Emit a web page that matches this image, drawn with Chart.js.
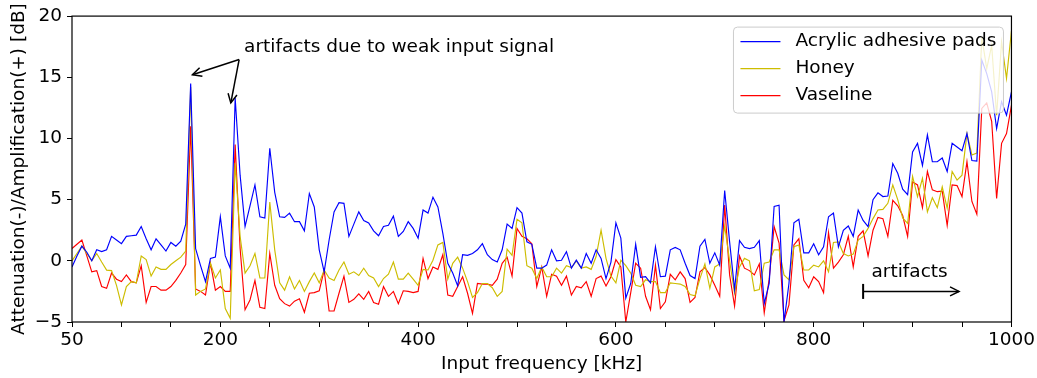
<!DOCTYPE html>
<html><head><meta charset="utf-8">
<script src="https://cdn.jsdelivr.net/npm/chart.js@4.4.1/dist/chart.umd.min.js"></script>
<style>html,body{margin:0;padding:0;background:#fff;}canvas{display:block;}</style>
</head><body>
<canvas id="c" width="1037" height="378"></canvas>
<script>
// Input frequency [kHz]
const frequencies = [
  50,55,60,65,70,75,80,85,90,95,
  100,105,110,115,120,125,130,135,140,145,
  150,155,160,165,170,175,180,185,190,195,
  200,205,210,215,220,225,230,235,240,245,
  250,255,260,265,270,275,280,285,290,295,
  300,305,310,315,320,325,330,335,340,345,
  350,355,360,365,370,375,380,385,390,395,
  400,405,410,415,420,425,430,435,440,445,
  450,455,460,465,470,475,480,485,490,495,
  500,505,510,515,520,525,530,535,540,545,
  550,555,560,565,570,575,580,585,590,595,
  600,605,610,615,620,625,630,635,640,645,
  650,655,660,665,670,675,680,685,690,695,
  700,705,710,715,720,725,730,735,740,745,
  750,755,760,765,770,775,780,785,790,795,
  800,805,810,815,820,825,830,835,840,845,
  850,855,860,865,870,875,880,885,890,895,
  900,905,910,915,920,925,930,935,940,945,
  950,955,960,965,970,975,980,985,990,995,
  1000
];
// Attenuation(-)/Amplification(+) [dB]
const acrylicPads = [
  -0.5,0.4,1.2,0.7,0.0,0.9,0.75,0.9,2.0,1.7,
  1.4,2.0,2.05,2.1,2.8,1.8,0.9,1.8,1.3,0.8,
  1.5,1.2,1.6,3.0,14.5,1.0,-0.4,-1.7,0.2,0.3,
  3.6,0.4,-0.6,13.3,7.0,2.8,4.5,6.2,3.6,3.5,
  9.2,5.6,3.6,3.55,3.9,3.2,3.2,2.45,5.5,4.4,
  0.9,-0.9,1.7,4.0,4.75,4.7,2.0,3.0,4.0,3.3,
  3.1,2.45,2.05,2.8,2.9,3.65,2.0,2.4,3.2,2.65,
  1.85,4.15,3.9,5.2,4.4,2.25,-0.2,-1.0,-2.05,0.5,
  0.45,0.6,0.9,1.4,0.5,0.1,-0.1,0.9,3.0,2.65,
  4.35,3.9,1.55,1.35,-0.6,-0.6,-0.35,0.9,0.0,0.05,
  0.75,-0.6,0.05,-0.6,0.6,-0.2,0.9,0.2,-1.45,-0.1,
  3.1,1.85,-3.05,-1.85,1.35,-1.35,-1.3,-1.8,1.15,-1.3,
  -1.25,0.9,1.1,0.9,-0.2,-1.2,-1.45,1.2,1.75,-0.2,
  0.65,-0.35,5.75,1.55,-2.35,1.65,1.1,1.0,1.1,1.65,
  -3.5,-1.85,4.45,4.55,-5.0,-1.85,3.1,3.4,0.65,0.65,
  1.4,0.5,1.15,3.6,3.9,1.15,2.5,2.85,2.0,4.15,
  3.3,2.8,5.0,5.55,5.25,5.3,7.95,7.15,5.85,5.4,
  8.9,9.6,7.8,10.3,8.1,8.1,8.4,7.3,9.6,9.3,
  9.0,10.4,8.2,8.15,16.4,15.3,13.8,10.8,13.0,11.9,
  13.8
];
const honey = [
  0.0,0.6,1.2,0.6,0.0,0.6,-0.1,-0.76,-0.8,-2.0,
  -3.6,-2.1,-1.7,-1.8,0.4,0.1,-1.25,-0.5,-0.7,-0.7,
  -0.3,0.0,0.3,0.8,14.2,-2.8,-2.5,-2.3,-0.2,-1.4,
  -0.75,-3.9,-4.7,8.0,2.0,-1.0,-0.4,0.6,-1.4,-1.4,
  4.8,0.9,-1.8,-2.4,-1.3,-2.3,-1.6,-2.5,-1.7,-1.0,
  -1.8,-0.75,-1.4,-1.6,-0.75,-0.1,-1.1,-0.9,-1.2,-0.6,
  -1.2,-1.4,-2.1,-1.45,-1.1,-0.1,-1.5,-1.5,-1.0,-1.5,
  -2.0,-0.7,-0.75,0.05,1.3,1.5,-1.5,-0.2,0.3,-0.6,
  -1.7,-3.0,-2.6,-1.85,-1.85,-2.2,-2.9,-2.5,0.95,0.45,
  3.4,3.1,-0.4,-0.6,-1.45,-0.5,-1.3,-1.3,-0.6,-1.0,
  -0.4,-0.55,0.0,-0.6,-0.5,-0.7,0.35,2.5,0.2,-1.25,
  -1.8,0.05,-0.4,-1.0,-2.0,-2.1,-1.55,-1.7,-1.7,-2.6,
  -2.6,-1.8,-1.85,-1.9,-2.1,-2.75,-2.85,-1.45,-0.25,-2.25,
  -0.5,-0.25,2.85,0.0,-2.65,-0.5,0.2,0.0,-2.45,-2.35,
  -0.2,-0.1,0.9,0.9,-1.15,-1.55,1.15,1.3,-0.75,-0.75,
  -0.35,-0.5,0.0,-0.9,1.5,1.55,0.6,0.4,0.55,1.7,
  2.0,2.65,3.45,4.15,4.2,4.7,6.2,5.0,3.5,3.05,
  6.9,5.25,6.75,4.0,5.15,4.35,6.05,4.3,7.3,6.6,
  7.0,10.4,8.65,8.8,18.3,15.7,17.6,11.9,17.9,14.9,
  18.8
];
const vaseline = [
  1.0,1.35,1.7,0.4,-0.9,-0.8,-2.1,-2.25,-1.0,-1.5,
  -1.7,-1.15,-1.7,-1.8,-0.4,-3.4,-2.1,-2.1,-2.4,-2.4,
  -2.1,-1.6,-1.0,-0.3,11.0,-2.3,-2.5,-2.8,-0.2,-2.4,
  -2.1,-2.5,-2.5,9.5,1.0,-4.0,-3.2,-1.6,-3.8,-3.9,
  0.6,-2.0,-3.1,-3.5,-3.7,-3.3,-3.1,-4.2,-2.65,-2.6,
  -2.45,-0.75,-4.1,-4.1,-2.65,-1.25,-3.4,-3.15,-2.7,-3.15,
  -2.5,-3.4,-3.55,-2.1,-2.9,-2.5,-3.5,-2.45,-2.5,-2.6,
  -2.5,0.2,-1.45,-0.5,-0.7,0.5,-2.8,-2.9,-2.1,-1.3,
  -2.65,-4.3,-1.85,-1.9,-1.9,-2.0,-1.5,-0.2,0.3,-1.25,
  2.65,2.0,1.8,1.4,-2.1,-0.5,-2.9,-1.1,-1.25,-2.0,
  -1.25,-2.8,-2.1,-2.2,-1.7,-2.9,-1.45,-1.25,-2.05,-1.3,
  0.1,-0.5,-5.0,-2.6,-0.2,-0.6,-2.9,-4.0,-0.35,-3.9,
  -3.35,-1.1,-1.55,-0.9,-1.45,-3.4,-3.0,-0.9,-0.55,-1.15,
  -2.0,-2.9,4.55,-1.15,-3.7,0.4,-0.6,-0.8,-1.15,-0.25,
  -4.25,-1.5,2.8,1.45,-4.9,-3.6,1.3,1.8,-1.6,-2.2,
  -1.3,-1.7,-2.6,2.3,-0.6,-0.1,0.5,2.0,-0.5,2.0,
  2.45,0.4,2.5,3.55,3.45,2.0,4.95,4.5,3.7,2.0,
  6.45,6.2,4.35,7.3,5.8,5.65,5.7,2.9,6.2,6.15,
  5.25,8.1,4.85,3.8,12.45,12.9,11.4,5.1,9.6,10.4,
  12.7
];
const seriesLabels = ['Acrylic adhesive pads', 'Honey', 'Vaseline'];
const xTickLabels = [50, 200, 400, 600, 800, 1000];
const yTickLabels = [-5, 0, 5, 10, 15, 20];

const FONT = "'DejaVu Sans', 'Liberation Sans', sans-serif";
const FS = 18.5;
const COLORS = ['#0000ff', '#cdbd00', '#ff0000'];

const toPts = arr => frequencies.map((f, i) => ({x: f, y: arr[i]}));

function arrowHead(ctx, x1, y1, x2, y2, len, half) {
  const a = Math.atan2(y2 - y1, x2 - x1);
  const bx = x2 - len * Math.cos(a), by = y2 - len * Math.sin(a);
  const nx = -Math.sin(a), ny = Math.cos(a);
  ctx.beginPath();
  ctx.moveTo(bx + nx * half, by + ny * half);
  ctx.lineTo(x2, y2);
  ctx.lineTo(bx - nx * half, by - ny * half);
  ctx.stroke();
}

const overlay = {
  id: 'overlay',
  afterDatasetsDraw(chart) {
    const {ctx, chartArea: a, scales: {x, y}} = chart;
    ctx.save();
    // frame (all four spines)
    ctx.strokeStyle = '#000';
    ctx.lineWidth = 1.2;
    ctx.strokeRect(a.left, a.top, a.right - a.left, a.bottom - a.top);

    // annotation: artifacts due to weak input signal
    ctx.fillStyle = '#000';
    ctx.font = FS + 'px ' + FONT;
    ctx.textBaseline = 'middle';
    ctx.textAlign = 'left';
    ctx.fillText('artifacts due to weak input signal', x.getPixelForValue(224), y.getPixelForValue(17.5));
    ctx.lineWidth = 1.5;
    const tx = x.getPixelForValue(219), ty = y.getPixelForValue(16.45);
    const heads = [[171.8, 15.2], [210.6, 12.9]];
    heads.forEach(([hf, hv]) => {
      const hx = x.getPixelForValue(hf), hy = y.getPixelForValue(hv);
      ctx.beginPath(); ctx.moveTo(tx, ty); ctx.lineTo(hx, hy); ctx.stroke();
      arrowHead(ctx, tx, ty, hx, hy, 9, 4.5);
    });

    // annotation: |-> artifacts
    ctx.textAlign = 'center';
    ctx.fillText('artifacts', x.getPixelForValue(897), y.getPixelForValue(-0.9));
    const ax1 = x.getPixelForValue(850), ax2 = x.getPixelForValue(947), ay = y.getPixelForValue(-2.5);
    ctx.beginPath(); ctx.moveTo(ax1, ay); ctx.lineTo(ax2, ay); ctx.stroke();
    ctx.lineWidth = 2;
    ctx.beginPath(); ctx.moveTo(ax1, ay - 7.5); ctx.lineTo(ax1, ay + 7.5); ctx.stroke();
    ctx.lineWidth = 1.5;
    arrowHead(ctx, ax1, ay, ax2, ay, 9, 4.5);

    // legend
    const lw = 270, lh = 86;
    const lx = a.right - 8 - lw, ly = a.top + 11;
    ctx.beginPath();
    ctx.roundRect(lx, ly, lw, lh, 4);
    ctx.fillStyle = 'rgba(255,255,255,0.8)';
    ctx.fill();
    ctx.strokeStyle = '#cccccc';
    ctx.lineWidth = 1;
    ctx.stroke();
    ctx.textAlign = 'left';
    seriesLabels.forEach((lab, i) => {
      const ry = ly + 14.5 + i * 27;
      ctx.strokeStyle = COLORS[i];
      ctx.lineWidth = 1.2;
      ctx.beginPath(); ctx.moveTo(lx + 7, ry); ctx.lineTo(lx + 47, ry); ctx.stroke();
      ctx.fillStyle = '#000';
      ctx.fillText(lab, lx + 62, ry);
    });
    ctx.restore();
  }
};

const minus = v => (v < 0 ? '\u2212' + Math.abs(v) : String(v));

new Chart(document.getElementById('c'), {
  type: 'line',
  data: {
    datasets: [
      {label: seriesLabels[0], data: toPts(acrylicPads), borderColor: COLORS[0]},
      {label: seriesLabels[1], data: toPts(honey), borderColor: COLORS[1]},
      {label: seriesLabels[2], data: toPts(vaseline), borderColor: COLORS[2]}
    ]
  },
  options: {
    responsive: false,
    animation: false,
    devicePixelRatio: 1,
    layout: {padding: {left: 0, right: 24, top: 16, bottom: 0}},
    elements: {
      point: {radius: 0, hoverRadius: 0},
      line: {borderWidth: 1.15, tension: 0, fill: false}
    },
    plugins: {legend: {display: false}, tooltip: {enabled: false}},
    scales: {
      x: {
        type: 'linear', min: 50, max: 1000,
        afterFit: s => { s.height = 56; },
        ticks: {
          stepSize: 50, autoSkip: false, maxRotation: 0, padding: 2, color: '#000',
          font: {family: FONT, size: FS, lineHeight: 1.2},
          callback: v => (xTickLabels.includes(v) ? String(v) : '')
        },
        grid: {drawOnChartArea: false, drawTicks: true, tickLength: 5, tickColor: '#000', tickWidth: 1},
        border: {display: false},
        title: {display: true, text: 'Input frequency [kHz]', color: '#000',
                font: {family: FONT, size: FS, lineHeight: 1.2}, padding: {top: 0, bottom: 3}}
      },
      y: {
        type: 'linear', min: -5, max: 20,
        afterFit: s => { s.width = 72; },
        ticks: {
          stepSize: 5, padding: 5, color: '#000',
          font: {family: FONT, size: FS, lineHeight: 1.2},
          callback: v => (yTickLabels.includes(v) ? minus(v) : '')
        },
        grid: {drawOnChartArea: false, drawTicks: true, tickLength: 5, tickColor: '#000', tickWidth: 1},
        border: {display: false},
        title: {display: true, text: 'Attenuation(-)/Amplification(+) [dB]', color: '#000',
                font: {family: FONT, size: FS, lineHeight: 1.2}, padding: {top: 8, bottom: 0}}
      }
    }
  },
  plugins: [overlay]
});
</script>
</body></html>
